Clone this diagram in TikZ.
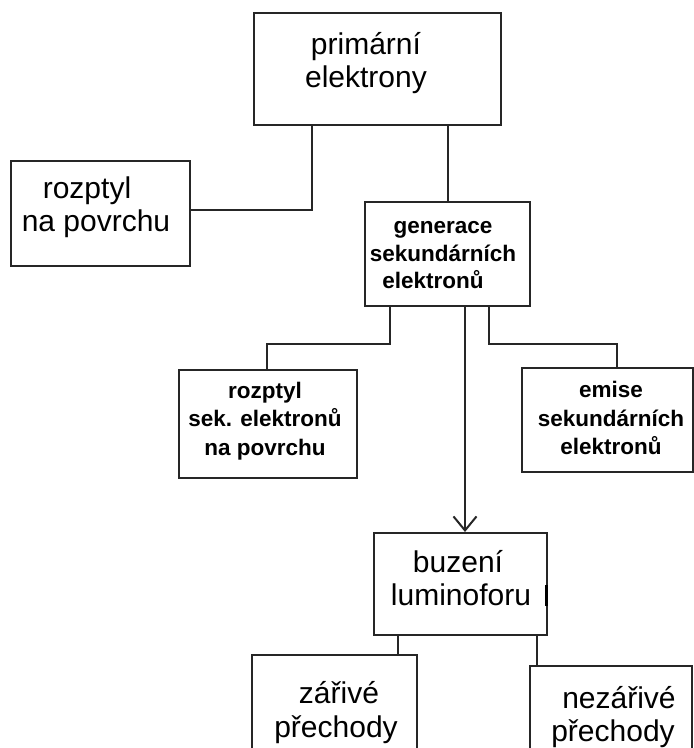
\documentclass[tikz,border=0pt]{standalone}
\usepackage{fontspec}
\setmainfont{Liberation Sans}
\usetikzlibrary{arrows.meta}
\begin{document}
\begin{tikzpicture}[x=1pt,y=-1pt,
  box/.style={draw=black!85,line width=2pt,rectangle,inner sep=0pt,anchor=center},
  bigtxt/.style={align=center,inner sep=0pt,font=\fontsize{30}{33}\selectfont},
  smalltxt/.style={align=center,inner sep=0pt,font=\bfseries\fontsize{22.5}{28.5}\selectfont},
  link/.style={draw=black!85,line width=2pt},
  ]
\useasboundingbox (0,0) rectangle (694,748);
\clip (0,0) rectangle (694,748);
\fill[white] (0,0) rectangle (694,748);

% boxes
\node[box,minimum width=247pt,minimum height=112pt] (prim) at (377.5,69) {};
\node[box,minimum width=179pt,minimum height=105pt] (roz) at (100.5,213.5) {};
\node[box,minimum width=165pt,minimum height=104pt] (gen) at (447.5,254) {};
\node[box,minimum width=178pt,minimum height=108pt] (rozsek) at (268,424) {};
\node[box,minimum width=171pt,minimum height=104pt] (emise) at (607,420) {};
\node[box,minimum width=173pt,minimum height=102pt] (buz) at (460.5,584) {};
\node[box,minimum width=165pt,minimum height=135pt] (zar) at (334.5,722.5) {};
\node[box,minimum width=162pt,minimum height=129pt] (nezar) at (611,730.5) {};

% texts
\node[bigtxt] (primT) at (366,63.5) {primární\\elektrony};
\node[bigtxt] (rozT) at (96,207) {\hspace*{-18pt}rozptyl\\na povrchu};
\node[smalltxt,font=\bfseries\fontsize{22.5}{27.5}\selectfont] (genT) at (443,255.5) {generace\\sekundárních\\\hspace*{-20pt}elektronů};
\node[smalltxt] (rozsekT) at (265,421) {rozptyl\\sek. elektronů\\na povrchu};
\node[smalltxt] (emiseT) at (611,418) {emise\\sekundárních\\elektronů};
\node[bigtxt] (buzT) at (461,578.5) {\hspace*{-6pt}buzení\\luminoforu};
\node[bigtxt,font=\fontsize{30}{34}\selectfont] (zarT) at (336,712.5) {\hspace*{6pt}zářivé\\přechody};
\node[bigtxt,font=\fontsize{30}{33}\selectfont] (nezarT) at (613,717.5) {\hspace*{12pt}nezářivé\\přechody};

% junction coordinates
\coordinate (j1) at (312,210);
\coordinate (j2) at (448,0);
\coordinate (j3) at (390,344);
\coordinate (j3b) at (267,344);
\coordinate (j4) at (465,0);
\coordinate (j5) at (489,344);
\coordinate (j5b) at (617,344);
\coordinate (j6) at (398,0);
\coordinate (j7) at (537,0);

% connectors
\draw[link] (prim.south -| j1) -- (j1) -- (roz.east |- j1);
\draw[link] (prim.south -| j2) -- (gen.north -| j2);
\draw[link] (gen.south -| j3) -- (j3) -- (j3b) -- (rozsek.north -| j3b);
\draw[link,-{Straight Barb[length=14pt,width=23pt,line width=2pt]}] (gen.south -| j4) -- (buz.north -| j4);
\draw[link] (gen.south -| j5) -- (j5) -- (j5b) -- (emise.north -| j5b);
\draw[link] (buz.south -| j6) -- (zar.north -| j6);
\draw[link] (buz.south -| j7) -- (nezar.north -| j7);

% cursor mark on right edge of buzeni box
\draw[black,line width=3pt] (546.5,585) -- (546.5,606);
\end{tikzpicture}
\end{document}
